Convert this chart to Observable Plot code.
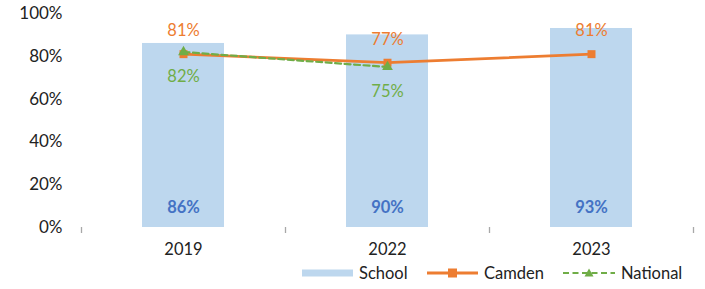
<!DOCTYPE html>
<html>
<head>
<meta charset="utf-8">
<script src="https://cdn.jsdelivr.net/npm/d3@7"></script>
<script src="https://cdn.jsdelivr.net/npm/@observablehq/plot@0.6"></script>
<style>
  html, body { margin: 0; padding: 0; background: #fff; }
  body { width: 705px; height: 289px; overflow: hidden; font-family: Lato, "Open Sans", sans-serif; }
  #legend { position: relative; height: 29px; font-size: 16.5px; color: #222; }
  .item { position: absolute; top: 0; height: 26px; display: flex; align-items: center; }
  .item svg { margin-right: 6px; }
</style>
</head>
<body>
<div id="chart"></div>
<div id="legend"></div>
<script>
const years = ["2019", "2022", "2023"];
const school = [86, 90, 93];
const camden = [81, 77, 81];
const nationalYears = ["2019", "2022"];
const national = [82, 75];
const yTicks = [0, 20, 40, 60, 80, 100];

const ORANGE = "#ED7D31", GREEN = "#70AD47", BAR = "#BDD7EE", BLUE = "#4472C4", GRID = "#A8A8A8";

const schoolData = years.map((y, i) => ({year: y, v: school[i]}));
const camdenData = years.map((y, i) => ({year: y, v: camden[i]}));
const nationalData = nationalYears.map((y, i) => ({year: y, v: national[i]}));

function bandTicks(index, scales, values, dims) {
  const x = scales.x, y = scales.y;
  const bw = typeof x.bandwidth === "function" ? x.bandwidth() : x.bandwidth;
  const step = x(years[1]) - x(years[0]);
  const half = (step - bw) / 2;
  const y0 = y(0);
  const g = d3.create("svg:g").attr("stroke", GRID).attr("stroke-width", 1.3);
  const pos = years.map(v => x(v) - half);
  pos.push(x(years[years.length - 1]) + bw + half);
  for (const p of pos) {
    g.append("line").attr("x1", Math.round(p) + 0.5).attr("x2", Math.round(p) + 0.5)
      .attr("y1", y0).attr("y2", y0 + 6);
  }
  return g.node();
}

const chart = Plot.plot({
  width: 705,
  height: 260,
  marginTop: 13,
  marginBottom: 33,
  marginLeft: 80,
  marginRight: 12,
  style: {fontFamily: "Lato, 'Open Sans', sans-serif", fontSize: "16px", color: "#222", background: "#fff"},
  x: {domain: years, paddingInner: 0.6, paddingOuter: 0.3, label: null},
  y: {domain: [0, 100], label: null},
  marks: [
    Plot.gridY(yTicks, {stroke: GRID, strokeOpacity: 1, strokeWidth: 1.3, x1: 74}),
    Plot.ruleX([0], {frameAnchor: "left", y1: 0, y2: 100, stroke: GRID, strokeOpacity: 1, strokeWidth: 1.3}),
    Plot.axisY(yTicks, {tickSize: 0, tickPadding: 18, tickFormat: d => d + "%", fontSize: 17, fill: "#222"}),
    Plot.axisX({tickSize: 0, tickPadding: 16, fontSize: 16.5, fill: "#222"}),
    bandTicks,
    Plot.barY(schoolData, {x: "year", y: "v", fill: BAR}),
    Plot.line(camdenData, {x: "year", y: "v", stroke: ORANGE, strokeWidth: 2.8}),
    Plot.dot(camdenData, {x: "year", y: "v", symbol: "square", r: 4.5, fill: ORANGE}),
    Plot.line(nationalData, {x: "year", y: "v", stroke: GREEN, strokeWidth: 2.2, strokeDasharray: "6,3.5"}),
    Plot.dot(nationalData, {x: "year", y: "v", symbol: "triangle", r: 4, fill: GREEN}),
    Plot.text(camdenData, {x: "year", y: "v", text: d => d.v + "%", dy: -23, fill: ORANGE, fontSize: 16.5}),
    Plot.text(nationalData, {x: "year", y: "v", text: d => d.v + "%", dy: 25, fill: GREEN, fontSize: 16.5}),
    Plot.text(schoolData, {x: "year", y: 0, text: d => d.v + "%", dy: -20, fill: BLUE, fontSize: 16.5, fontWeight: "bold"})
  ]
});
document.getElementById("chart").appendChild(chart);

const legendItems = [
  {name: "School", left: 302, svg: `<svg width="51" height="12"><rect x="0" y="2.5" width="51" height="7" fill="${BAR}"/></svg>`},
  {name: "Camden", left: 427, svg: `<svg width="51" height="12"><line x1="0" x2="51" y1="6" y2="6" stroke="${ORANGE}" stroke-width="2.8"/><rect x="21" y="1.5" width="9" height="9" fill="${ORANGE}"/></svg>`},
  {name: "National", left: 563, svg: `<svg width="52" height="12"><line x1="0" x2="52" y1="6" y2="6" stroke="${GREEN}" stroke-width="2.2" stroke-dasharray="6,3.5"/><path d="M26,1.5 L30.5,9.5 L21.5,9.5 Z" fill="${GREEN}"/></svg>`}
];
const legend = document.getElementById("legend");
for (const it of legendItems) {
  const d = document.createElement("div");
  d.className = "item";
  d.style.left = it.left + "px";
  d.innerHTML = it.svg + `<span>${it.name}</span>`;
  legend.appendChild(d);
}
</script>
</body>
</html>
